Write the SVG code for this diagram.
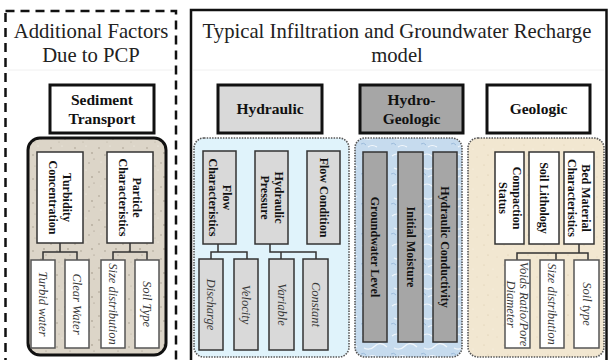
<svg xmlns="http://www.w3.org/2000/svg" width="608" height="360" viewBox="0 0 608 360">
<defs>
<pattern id="speck" width="24" height="24" patternUnits="userSpaceOnUse">
<rect width="24" height="24" fill="#dcd5c8"/>
<circle cx="3" cy="4" r="0.8" fill="#a89f90"/><circle cx="14" cy="2" r="0.6" fill="#f4f0e8"/>
<circle cx="9" cy="11" r="0.7" fill="#9e9585"/><circle cx="20" cy="9" r="0.9" fill="#b3aa9b"/>
<circle cx="5" cy="18" r="0.6" fill="#f2eee6"/><circle cx="17" cy="19" r="0.7" fill="#a39a8b"/>
<circle cx="22" cy="15" r="0.5" fill="#8f8676"/><circle cx="11" cy="22" r="0.6" fill="#b8af9f"/>
</pattern>
<pattern id="marble" width="30" height="30" patternUnits="userSpaceOnUse">
<rect width="30" height="30" fill="#c6dbee"/>
<path d="M2 6 q5 -4 10 0 t10 2 M4 18 q6 3 11 -2 t12 1 M8 27 q4 -3 9 0" fill="none" stroke="#f2f7fc" stroke-width="1.2"/>
<path d="M14 12 q3 2 7 -1 M1 24 q3 -2 5 1" fill="none" stroke="#8fb1d4" stroke-width="0.8"/>
</pattern>
<pattern id="sand" width="20" height="20" patternUnits="userSpaceOnUse">
<rect width="20" height="20" fill="#f2e7d1"/>
<circle cx="4" cy="5" r="0.6" fill="#d9c9aa"/><circle cx="13" cy="9" r="0.5" fill="#fbf6ec"/>
<circle cx="8" cy="15" r="0.6" fill="#d6c5a4"/><circle cx="17" cy="17" r="0.5" fill="#e0d2b6"/>
</pattern>
</defs>
<style>
.title{font-family:"Liberation Serif","Times New Roman",serif;font-size:20.7px;fill:#222;text-anchor:middle}
.hdr{font-family:"Liberation Serif","Times New Roman",serif;font-size:15.5px;font-weight:bold;fill:#111;text-anchor:middle}
.vb{font-family:"Liberation Serif","Times New Roman",serif;font-size:12px;font-weight:bold;fill:#111;text-anchor:middle;dominant-baseline:central}
.vi{font-family:"Liberation Serif","Times New Roman",serif;font-size:12.5px;font-style:italic;fill:#383838;text-anchor:middle;dominant-baseline:central}
.hbox{stroke:#111;stroke-width:3}
.ibox{stroke:#333;stroke-width:1.5}
.lbox{stroke:#555;stroke-width:1.5}
.cont{stroke:#555;stroke-width:1.6;stroke-dasharray:1.5 1.2}
.conn{fill:none;stroke:#333;stroke-width:1.5}
</style>

<g id="pcp-frame">
<rect x="5.5" y="11" width="170.5" height="360" fill="none" stroke="#111" stroke-width="2.5" stroke-dasharray="9 6"/>
<line x1="8" y1="70" x2="173" y2="70" stroke="#f0f0f0" stroke-width="1"/>
<text class="title" x="91" y="38">Additional Factors</text>
<text class="title" x="91" y="62">Due to PCP</text>
</g>

<g id="main-frame">
<rect x="191" y="10" width="415.5" height="370" fill="none" stroke="#111" stroke-width="2.5"/>
<line x1="193" y1="70" x2="604" y2="70" stroke="#f0f0f0" stroke-width="1"/>
<text class="title" x="397" y="38">Typical Infiltration and Groundwater Recharge</text>
<text class="title" x="397" y="62">model</text>
</g>

<g id="sediment-header">
<rect class="hbox" x="50" y="85" width="104" height="48" fill="#fff"/>
<text class="hdr" x="102" y="105">Sediment</text>
<text class="hdr" x="102" y="124">Transport</text>
</g>
<g id="hydraulic-header">
<rect class="hbox" x="218" y="85" width="104" height="48" fill="#d9d9d9"/>
<text class="hdr" x="270" y="114">Hydraulic</text>
</g>
<g id="hydrogeologic-header">
<rect class="hbox" x="360" y="85" width="103" height="48" fill="#a6a6a6"/>
<text class="hdr" x="411.5" y="105">Hydro-</text>
<text class="hdr" x="411.5" y="124">Geologic</text>
</g>
<g id="geologic-header">
<rect class="hbox" x="487" y="85" width="103" height="48" fill="#fff"/>
<text class="hdr" x="538.5" y="114">Geologic</text>
</g>

<g id="sediment-container">
<rect x="28" y="138" width="138" height="217" rx="12" fill="url(#speck)" stroke="#111" stroke-width="3"/>
</g>
<g id="hydraulic-container">
<rect class="cont" x="194" y="138" width="155" height="219" rx="10" fill="#e0f3fb"/>
</g>
<g id="hydro-container">
<rect class="cont" x="355" y="138" width="107" height="219" rx="10" fill="url(#marble)"/>
</g>
<g id="geologic-container">
<rect class="cont" x="468" y="138" width="136" height="219" rx="10" fill="url(#sand)"/>
</g>

<g id="connectors">
<path class="conn" d="M60 243 V252 M43 260 V252 H77 V260"/>
<path class="conn" d="M130 243 V252 M113 260 V252 H147 V260"/>
<path class="conn" d="M218 244 V252 M211 259 V252 H247 V259"/>
<path class="conn" d="M270 244 V252 H316 V259 M281 252 V259"/>
<path class="conn" d="M579 244 V253 M517 260 V253 H588 V260 M556 253 V260"/>
</g>

<g id="turbidity-concentration">
<rect class="ibox" x="37" y="152" width="46" height="91" fill="#fff"/>
<text class="vb" transform="translate(60 197.5) rotate(90)"><tspan x="0" y="-7">Turbidity</tspan><tspan x="0" y="7">Concentration</tspan></text>
</g>
<g id="particle-characteristics">
<rect class="ibox" x="107" y="152" width="46" height="91" fill="#fff"/>
<text class="vb" transform="translate(130 197.5) rotate(90)"><tspan x="0" y="-7">Particle</tspan><tspan x="0" y="7">Characteristics</tspan></text>
</g>
<g id="turbid-water">
<rect class="lbox" x="31" y="260" width="24" height="88" fill="#fff"/>
<text class="vi" transform="translate(43 304) rotate(90)">Turbid water</text>
</g>
<g id="clear-water">
<rect class="lbox" x="65" y="260" width="24" height="88" fill="#fff"/>
<text class="vi" transform="translate(77 304) rotate(90)">Clear Water</text>
</g>
<g id="size-distribution-1">
<rect class="lbox" x="101" y="260" width="24" height="88" fill="#fff"/>
<text class="vi" transform="translate(113 304) rotate(90)">Size distribution</text>
</g>
<g id="soil-type-1">
<rect class="lbox" x="135" y="260" width="24" height="88" fill="#fff"/>
<text class="vi" transform="translate(147 304) rotate(90)">Soil Type</text>
</g>

<g id="flow-characteristics">
<rect class="ibox" x="203" y="151" width="33" height="93" fill="#d9d9d9"/>
<text class="vb" transform="translate(219.5 197.5) rotate(90)"><tspan x="0" y="-7">Flow</tspan><tspan x="0" y="7">Characteristics</tspan></text>
</g>
<g id="hydraulic-pressure">
<rect class="ibox" x="255" y="151" width="33" height="93" fill="#d9d9d9"/>
<text class="vb" transform="translate(271.5 197.5) rotate(90)"><tspan x="0" y="-7">Hydraulic</tspan><tspan x="0" y="7">Pressure</tspan></text>
</g>
<g id="flow-condition">
<rect class="ibox" x="307" y="151" width="33" height="93" fill="#d9d9d9"/>
<text class="vb" transform="translate(323.5 197.5) rotate(90)">Flow Condition</text>
</g>
<g id="discharge">
<rect class="ibox" x="199" y="259" width="24" height="91" fill="#d9d9d9"/>
<text class="vi" transform="translate(211 304.5) rotate(90)">Discharge</text>
</g>
<g id="velocity">
<rect class="ibox" x="234" y="259" width="24" height="91" fill="#d9d9d9"/>
<text class="vi" transform="translate(246 304.5) rotate(90)">Velocity</text>
</g>
<g id="variable">
<rect class="ibox" x="269" y="259" width="25" height="91" fill="#d9d9d9"/>
<text class="vi" transform="translate(281.5 304.5) rotate(90)">Variable</text>
</g>
<g id="constant">
<rect class="ibox" x="303" y="259" width="25" height="91" fill="#d9d9d9"/>
<text class="vi" transform="translate(315.5 304.5) rotate(90)">Constant</text>
</g>

<g id="groundwater-level">
<rect class="ibox" x="363" y="152" width="24" height="190" fill="#a6a6a6"/>
<text class="vb" transform="translate(375 247) rotate(90)">Groundwater Level</text>
</g>
<g id="initial-moisture">
<rect class="ibox" x="398" y="152" width="25" height="190" fill="#a6a6a6"/>
<text class="vb" transform="translate(410.5 247) rotate(90)">Initial Moisture</text>
</g>
<g id="hydraulic-conductivity">
<rect class="ibox" x="433" y="152" width="24" height="190" fill="#a6a6a6"/>
<text class="vb" transform="translate(445 247) rotate(90)">Hydraulic Conductivity</text>
</g>

<g id="compaction-status">
<rect class="ibox" x="495" y="152" width="29" height="92" fill="#fff"/>
<text class="vb" transform="translate(509.5 198) rotate(90)"><tspan x="0" y="-7">Compaction</tspan><tspan x="0" y="7">Status</tspan></text>
</g>
<g id="soil-lithology">
<rect class="ibox" x="529" y="152" width="30" height="92" fill="#fff"/>
<text class="vb" transform="translate(544 198) rotate(90)">Soil Lithology</text>
</g>
<g id="bed-material-characteristics">
<rect class="ibox" x="564" y="152" width="30" height="92" fill="#fff"/>
<text class="vb" transform="translate(579 198) rotate(90)"><tspan x="0" y="-7">Bed Material</tspan><tspan x="0" y="7">Characteristics</tspan></text>
</g>
<g id="voids-ratio">
<rect class="lbox" x="505" y="260" width="25" height="88" fill="#fff"/>
<text class="vi" transform="translate(517.5 304) rotate(90)"><tspan x="0" y="-6.5">Voids Ratio/Pore</tspan><tspan x="0" y="6.5">Diameter</tspan></text>
</g>
<g id="size-distribution-2">
<rect class="lbox" x="540" y="260" width="24" height="88" fill="#fff"/>
<text class="vi" transform="translate(552 304) rotate(90)">Size distribution</text>
</g>
<g id="soil-type-2">
<rect class="lbox" x="574" y="260" width="25" height="88" fill="#fff"/>
<text class="vi" transform="translate(586.5 304) rotate(90)">Soil type</text>
</g>
</svg>
